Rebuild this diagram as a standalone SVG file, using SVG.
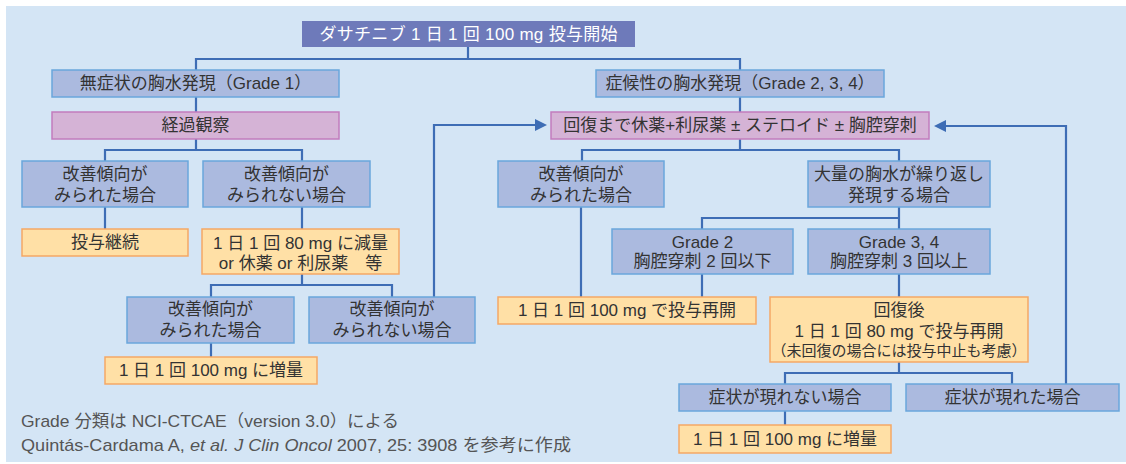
<svg xmlns="http://www.w3.org/2000/svg" width="1126" height="464" viewBox="0 0 1126 464">
<defs>
<style>
text{font-family:"Liberation Sans","Noto Sans CJK JP",sans-serif;font-size:17px;fill:#333;text-anchor:middle;dominant-baseline:central}
.b{fill:#abbadf;stroke:#6aa6dc;stroke-width:1.5}
.p{fill:#d5b3d6;stroke:#c27cbd;stroke-width:1.5}
.o{fill:#ffe0a6;stroke:#f5a865;stroke-width:1.5}
.t{fill:#6e7aba}
.c{fill:none;stroke:#3e6db5;stroke-width:2.2}
.s{font-size:15px}
.f{text-anchor:start;dominant-baseline:alphabetic;fill:#555}
</style>
<marker id="ar" markerUnits="userSpaceOnUse" markerWidth="13" markerHeight="12" refX="10" refY="6" orient="auto">
<path d="M0,0 L12,6 L0,12 z" fill="#3e6db5"/>
</marker>
</defs>
<rect x="6" y="6" width="1120" height="456" fill="#d4e5f5"/>
<g id="connectors">
<path class="c" d="M468,47 V59 M196,70 V59 H740 V70"/>
<path class="c" d="M196,97 V112 M740,97 V112"/>
<path class="c" d="M196,139 V150 M105,161 V150 H302 V161"/>
<path class="c" d="M105,207 V229 M302,207 V229"/>
<path class="c" d="M302,274 V285 M211,297 V285 H392 V297"/>
<path class="c" d="M211,343 V357"/>
<path class="c" d="M434,297 V125 H545" marker-end="url(#ar)"/>
<path class="c" d="M740,139 V150 M582,161 V150 H899 V161"/>
<path class="c" d="M581,207 V297"/>
<path class="c" d="M899,207 V218 M702,229 V218 H899 V229"/>
<path class="c" d="M702,274 V297 M899,274 V297"/>
<path class="c" d="M899,362 V373 M785,384 V373 H1012 V384"/>
<path class="c" d="M785,411 V425"/>
<path class="c" d="M1066,384 V126 H936" marker-end="url(#ar)"/>
</g>
<g id="n-start"><rect class="t" x="302" y="21" width="333" height="26"/><text x="468.5" y="34" style="fill:#fff" textLength="298" lengthAdjust="spacing">ダサチニブ  1 日 1 回 100 mg 投与開始</text></g>
<g id="n-g1"><rect class="b" x="52" y="70" width="287" height="27"/><text x="195.5" y="83.5">無症状の胸水発現（Grade 1）</text></g>
<g id="n-g234"><rect class="b" x="596" y="70" width="288" height="27"/><text x="740" y="83.5">症候性の胸水発現（Grade 2, 3, 4）</text></g>
<g id="n-obs"><rect class="p" x="52" y="112" width="287" height="27"/><text x="195.5" y="125.5">経過観察</text></g>
<g id="n-rest"><rect class="p" x="551" y="112" width="378" height="27"/><text x="740" y="125.5">回復まで休薬+利尿薬 ± ステロイド ± 胸腔穿刺</text></g>
<g id="n-a"><rect class="b" x="22" y="161" width="166" height="46"/><text x="105" y="174">改善傾向が</text><text x="105" y="195">みられた場合</text></g>
<g id="n-b"><rect class="b" x="203" y="161" width="167" height="46"/><text x="286.5" y="174">改善傾向が</text><text x="286.5" y="195">みられない場合</text></g>
<g id="n-c"><rect class="b" x="498" y="161" width="166" height="46"/><text x="581" y="174">改善傾向が</text><text x="581" y="195">みられた場合</text></g>
<g id="n-d"><rect class="b" x="808" y="161" width="182" height="46"/><text x="899" y="174">大量の胸水が繰り返し</text><text x="899" y="195">発現する場合</text></g>
<g id="n-cont"><rect class="o" x="22" y="229" width="166" height="27"/><text x="105" y="242.5">投与継続</text></g>
<g id="n-80"><rect class="o" x="202" y="229" width="197" height="45"/><text x="300.5" y="243">1 日 1 回 80 mg に減量</text><text x="300.5" y="263">or 休薬 or 利尿薬　等</text></g>
<g id="n-gr2"><rect class="b" x="612" y="229" width="181" height="45"/><text x="702.5" y="242">Grade 2</text><text x="702.5" y="261">胸腔穿刺 2 回以下</text></g>
<g id="n-gr34"><rect class="b" x="808" y="229" width="182" height="45"/><text x="899" y="242">Grade 3, 4</text><text x="899" y="261">胸腔穿刺 3 回以上</text></g>
<g id="n-e"><rect class="b" x="127" y="297" width="167" height="46"/><text x="210.5" y="309">改善傾向が</text><text x="210.5" y="330">みられた場合</text></g>
<g id="n-f"><rect class="b" x="309" y="297" width="166" height="46"/><text x="392" y="309">改善傾向が</text><text x="392" y="330">みられない場合</text></g>
<g id="n-up1"><rect class="o" x="105" y="357" width="212" height="27"/><text x="211" y="370.5">1 日 1 回 100 mg に増量</text></g>
<g id="n-resume100"><rect class="o" x="498" y="297" width="258" height="27"/><text x="627" y="310.5">1 日 1 回 100 mg で投与再開</text></g>
<g id="n-resume80"><rect class="o" x="770" y="297" width="258" height="65"/><text x="899" y="310">回復後</text><text x="899" y="331">1 日 1 回 80 mg で投与再開</text><text class="s" x="899" y="350">（未回復の場合には投与中止も考慮）</text></g>
<g id="n-nosym"><rect class="b" x="679" y="384" width="212" height="27"/><text x="785" y="397.5">症状が現れない場合</text></g>
<g id="n-sym"><rect class="b" x="906" y="384" width="213" height="27"/><text x="1012.5" y="397.5">症状が現れた場合</text></g>
<g id="n-up2"><rect class="o" x="679" y="425" width="212" height="28"/><text x="785" y="439">1 日 1 回 100 mg に増量</text></g>
<g id="footer">
<text class="f" x="21" y="427" textLength="378" lengthAdjust="spacingAndGlyphs">Grade 分類は NCI-CTCAE（version 3.0）による</text>
<text class="f" x="21" y="451" textLength="550" lengthAdjust="spacingAndGlyphs">Quintás-Cardama A, <tspan font-style="italic">et al. J Clin Oncol</tspan> 2007, 25: 3908 を参考に作成</text>
</g>
</svg>
